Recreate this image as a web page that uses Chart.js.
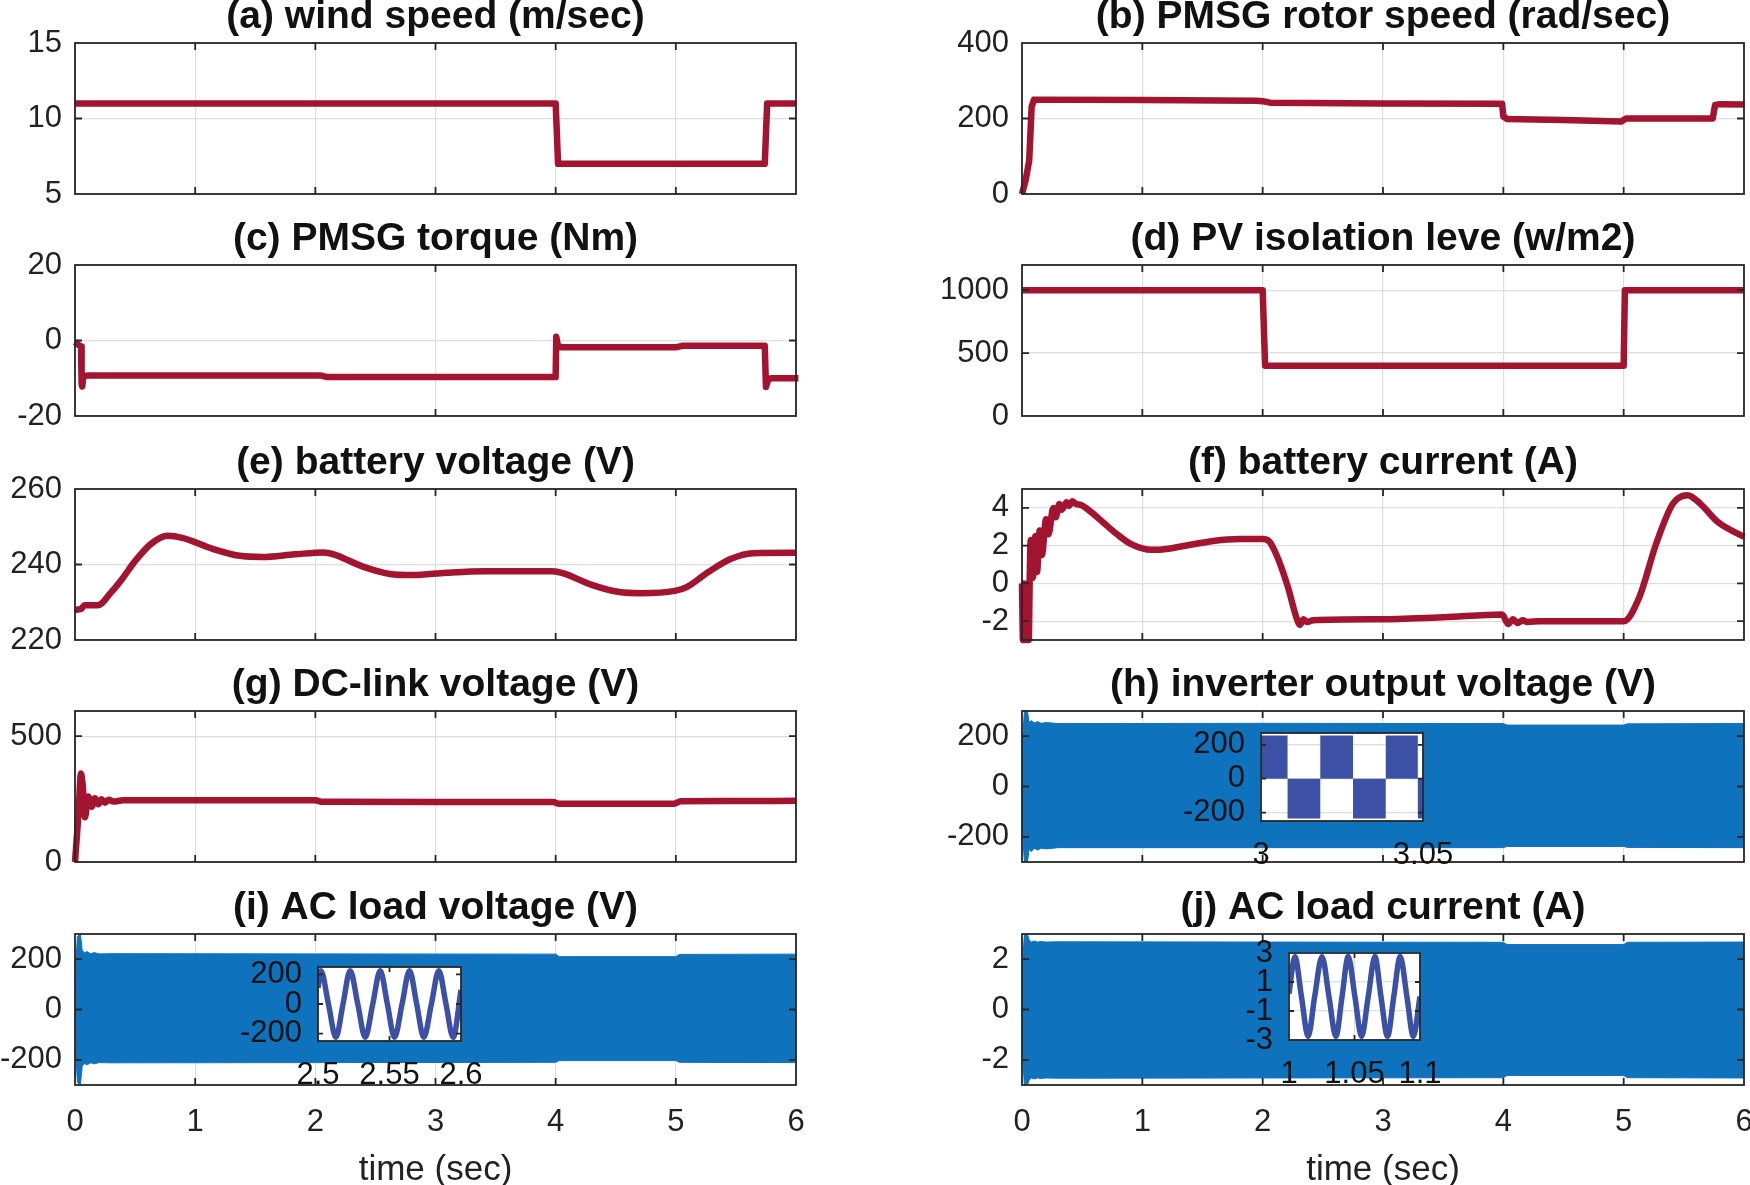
<!DOCTYPE html>
<html lang="en">
<head>
<meta charset="UTF-8" />
<title>Hybrid wind / PV system - simulation results</title>
<script src="https://cdn.jsdelivr.net/npm/chart.js"></script>
<style>
  html, body { margin: 0; padding: 0; background: #fff; overflow: hidden; }
  #fig { position: relative; width: 1750px; height: 1185px; overflow: hidden; background: #fff; }
  #fig canvas { position: absolute; }
</style>
</head>
<body>
<div id="fig"></div>
<script>
// ---- values (time in sec) ----
const xTicksMain = [0, 1, 2, 3, 4, 5, 6];
const xTicksTorque = [0, 3, 6];

// (a) wind speed
const windT = [0, 4.0, 4.02, 5.74, 5.76, 6];
const windV = [11, 11, 7, 7, 11, 11];
const windTicks = [5, 10, 15];

// (b) PMSG rotor speed
const rotorT = [0, 0.03, 0.06, 0.08, 0.1, 1.0, 1.95, 2.0, 2.06, 3.0, 3.99, 4.0, 4.03, 4.5, 4.98, 5.02, 5.74, 5.76, 5.8, 6];
const rotorV = [0, 36, 89, 231, 250, 249, 247, 246, 242, 240, 239, 205, 199, 196, 192, 200, 200, 236, 238, 237];
const rotorTicks = [0, 200, 400];

// (c) PMSG torque
const torqT = [0, 0.03, 0.05, 0.055, 0.06, 0.07, 0.1, 1.0, 2.05, 2.1, 3.0, 4.0, 4.005, 4.02, 4.05, 5.0, 5.05, 5.74, 5.75, 5.77, 5.8, 6.02];
const torqV = [-0.4, -1.2, -1.6, -11.5, -12.2, -9.4, -9.3, -9.3, -9.3, -9.7, -9.7, -9.7, 1.0, -1.6, -1.8, -1.8, -1.4, -1.4, -12.3, -10.2, -10, -10];
const torqTicks = [-20, 0, 20];

// (d) PV isolation level
const pvT = [0, 2.0, 2.02, 5.0, 5.01, 6];
const pvV = [1000, 1000, 400, 400, 1000, 1000];
const pvTicks = [0, 500, 1000];

// (e) battery voltage
const batVT = [0, 0.05, 0.08, 0.19, 0.3, 0.4, 0.49, 0.63, 0.77, 0.9, 1.14, 1.37, 1.56, 1.83, 2.07, 2.16, 2.39, 2.62, 2.81, 3.09, 3.41, 3.97, 4.06, 4.3, 4.53, 4.71, 4.99, 5.09, 5.27, 5.46, 5.64, 6];
const batVV = [228, 228.2, 229.2, 229.2, 232.6, 236.5, 240.5, 245.4, 247.6, 247, 244.2, 242.3, 242, 242.7, 243.2, 242.6, 239.5, 237.5, 237.2, 237.8, 238.2, 238.2, 237.7, 234.6, 232.7, 232.4, 233, 234, 238, 241.5, 243, 243.1];
const batVTicks = [220, 240, 260];

// (f) battery current
const batIT = [0, 0.008, 0.016, 0.024, 0.032, 0.04, 0.048, 0.056, 0.064, 0.072, 0.09, 0.11, 0.125, 0.146, 0.165, 0.2, 0.22, 0.26, 0.28, 0.31, 0.33, 0.37, 0.39, 0.42, 0.45, 0.49, 0.57, 0.68, 0.79, 0.9, 1.04, 1.12, 1.32, 1.59, 1.81, 2.0, 2.05, 2.11, 2.21, 2.28, 2.31, 2.34, 2.37, 2.42, 3.0, 3.5, 3.99, 4.04, 4.08, 4.12, 4.16, 4.2, 4.3, 5.0, 5.13, 5.27, 5.41, 5.53, 5.64, 5.78, 6.0];
const batIV = [0, -3, 0, -3, -0.2, -3, 0, -3, 0.2, 2.3, 0.3, 2.5, 0.6, 2.8, 1.5, 3.4, 2.6, 4.0, 3.5, 4.2, 3.9, 4.3, 4.1, 4.35, 4.2, 4.15, 3.8, 3.2, 2.6, 2.1, 1.8, 1.78, 1.95, 2.25, 2.35, 2.35, 2.25, 1.58, -0.2, -1.8, -2.2, -1.9, -2.05, -1.95, -1.9, -1.8, -1.65, -2.15, -1.9, -2.1, -1.95, -2.05, -2.0, -2.0, -0.73, 2.1, 4.23, 4.67, 4.2, 3.26, 2.46];
const batITicks = [-2, 0, 2, 4];

// (g) DC-link voltage
const dcT = [0, 0.03, 0.05, 0.065, 0.083, 0.11, 0.139, 0.166, 0.194, 0.22, 0.25, 0.28, 0.32, 0.4, 0.5, 2.0, 2.06, 3.0, 3.98, 4.03, 4.5, 4.98, 5.04, 5.5, 6];
const dcV = [0, 200, 352, 300, 178, 260, 220, 253, 229, 249, 235, 247, 240, 245, 245, 245, 239, 238, 238, 231, 231, 231, 241, 242, 243];
const dcTicks = [0, 500];

// (h) inverter output voltage: envelope of the 50 Hz band
const invT  = [0, 0.02, 0.045, 0.06, 0.08, 0.1, 0.13, 0.16, 0.2, 0.3, 2.0, 4.0, 4.03, 5.0, 5.03, 6];
const invUp = [150, 300, 300, 255, 262, 252, 258, 251, 254, 250, 251, 250, 244, 244, 249, 250];
const invLo = [-150, -300, -300, -250, -258, -245, -252, -245, -248, -243, -243, -243, -238, -238, -242, -243];
const invTicks = [-200, 0, 200];
// inset: 3 .. 3.05 s
const invZoomT = [3.0, 3.0082, 3.0183, 3.0284, 3.0385, 3.0484, 3.05];
const invZoomV = [255, -235, 255, -235, 255, -235, -235];
const invZoomXTicks = [3, 3.05];

// (i) AC load voltage: envelope
const acvT  = [0, 0.02, 0.045, 0.06, 0.08, 0.1, 0.13, 0.16, 0.2, 0.3, 2.0, 4.0, 4.03, 5.0, 5.03, 6];
const acvUp = [120, 290, 300, 235, 225, 230, 222, 226, 221, 222, 221, 220, 210, 210, 219, 220];
const acvLo = [-120, -290, -300, -225, -215, -220, -212, -216, -211, -212, -211, -210, -203, -203, -210, -211];
const acvTicks = [-200, 0, 200];
// inset: 2.5 .. 2.6 s
const acvZoomT = [2.5, 2.502, 2.5073, 2.5125, 2.5175, 2.5225, 2.5278, 2.533, 2.5383, 2.5435, 2.5485, 2.5535, 2.5588, 2.564, 2.569, 2.574, 2.5793, 2.5845, 2.5895, 2.5945, 2.6];
const acvZoomV = [110, 225, 0, -225, 0, 225, 0, -225, 0, 225, 0, -225, 0, 225, 0, -225, 0, 225, 0, -225, 95];
const acvZoomXTicks = [2.5, 2.55, 2.6];

// (j) AC load current: envelope
const aciT  = [0, 0.02, 0.045, 0.06, 0.08, 0.1, 0.13, 0.16, 0.2, 0.3, 2.0, 4.0, 4.03, 5.0, 5.03, 6];
const aciUp = [1.5, 3, 3, 2.75, 2.68, 2.72, 2.68, 2.7, 2.68, 2.69, 2.68, 2.67, 2.58, 2.58, 2.67, 2.68];
const aciLo = [-1.5, -3, -3, -2.8, -2.72, -2.76, -2.72, -2.74, -2.72, -2.73, -2.72, -2.71, -2.62, -2.62, -2.71, -2.72];
const aciTicks = [-2, 0, 2];
// inset: 1 .. 1.1 s
const aciZoomT = [1.0, 1.0045, 1.0095, 1.0146, 1.0196, 1.0252, 1.0305, 1.0358, 1.0405, 1.0452, 1.0503, 1.0554, 1.0605, 1.0656, 1.0702, 1.0752, 1.08, 1.0849, 1.09, 1.0949, 1.1];
const aciZoomV = [0.2, 2.75, 0, -2.75, 0, 2.75, 0, -2.75, 0, 2.75, 0, -2.75, 0, 2.75, 0, -2.75, 0, 2.75, 0, -2.75, 0];
const aciZoomXTicks = [1, 1.05, 1.1];
const aciZoomYTicks = [-3, -1, 1, 3];

// ---- styling ----
const RED = '#A2142F';
const BLUE = '#0F72BD';
const INSET_BLUE = '#3C51A6';
const GRID = '#dedede';
const AXIS = '#262626';
const FONT = "'Liberation Sans', Arial, Helvetica, sans-serif";
const TICK_SIZE = 31;
Chart.defaults.font.family = FONT;
Chart.defaults.color = '#1a1a1a';

const FIG_H = 1185;
const ROWS = [43, 265, 489, 711, 934];   // top of each plot box
const PH = 151;                           // plot box height
const Y_W = 100;                          // y axis band width (room for "1000")
const COLS = [
  {left: -30, width: 905, plotL: 75, plotR: 796},
  {left: 845, width: 945, plotL: 1022, plotR: 1744}
];

const fig = document.getElementById('fig');
function addCanvas(left, top, w, h) {
  const c = document.createElement('canvas');
  c.width = w; c.height = h;
  c.style.left = left + 'px'; c.style.top = top + 'px';
  c.style.width = w + 'px'; c.style.height = h + 'px';
  fig.appendChild(c);
  return c;
}

const pts = (t, v) => t.map((x, i) => ({x, y: v[i]}));
const setTicks = arr => s => { s.ticks = arr.map(v => ({value: v})); };

// MATLAB-like axes box with inward tick marks
const boxPlugin = {
  id: 'matlabBox',
  afterDraw(chart, args, opts) {
    const {ctx, chartArea: a, scales: {x, y}} = chart;
    const L = opts.tick || 7;
    ctx.save();
    ctx.strokeStyle = AXIS;
    ctx.lineWidth = 1.8;
    ctx.beginPath();
    x.ticks.forEach(tk => {
      const p = x.getPixelForValue(tk.value);
      if (p <= a.left + 1 || p >= a.right - 1) return;
      ctx.moveTo(p, a.bottom); ctx.lineTo(p, a.bottom - L);
      ctx.moveTo(p, a.top); ctx.lineTo(p, a.top + L);
    });
    y.ticks.forEach(tk => {
      const p = y.getPixelForValue(tk.value);
      if (p <= a.top + 1 || p >= a.bottom - 1) return;
      ctx.moveTo(a.left, p); ctx.lineTo(a.left + L, p);
      ctx.moveTo(a.right, p); ctx.lineTo(a.right - L, p);
    });
    ctx.stroke();
    ctx.strokeRect(a.left, a.top, a.right - a.left, a.bottom - a.top);
    ctx.restore();
  }
};
const whitePlugin = {
  id: 'whiteArea',
  beforeDraw(chart) {
    const {ctx, chartArea: a} = chart;
    ctx.save();
    ctx.fillStyle = '#fff';
    ctx.fillRect(a.left, a.top, a.right - a.left, a.bottom - a.top);
    ctx.restore();
  }
};

function redLine(t, v, smooth) {
  return [{
    data: pts(t, v), borderColor: RED, borderWidth: 6.5, pointRadius: 0,
    tension: 0, cubicInterpolationMode: smooth ? 'monotone' : 'default',
    clip: false, borderJoinStyle: 'round', fill: false
  }];
}
function band(t, up, lo) {
  return [
    {data: pts(t, up), borderColor: BLUE, borderWidth: 1, pointRadius: 0, fill: false},
    {data: pts(t, lo), borderColor: BLUE, borderWidth: 1, pointRadius: 0, fill: '-1', backgroundColor: BLUE}
  ];
}

function mainPanel(o) {
  const C = COLS[o.col];
  const pTop = ROWS[o.row];
  const last = o.row === ROWS.length - 1;
  const xH = last ? FIG_H - (pTop + PH) + 6 : 0;
  const bottomPad = last ? 0 : 34;
  const top = pTop - 60;
  const h = 60 + PH + xH + bottomPad;
  const canvas = addCanvas(C.left, top, C.width, h);
  return new Chart(canvas, {
    type: 'line',
    data: {datasets: o.datasets},
    options: {
      responsive: false, animation: false, devicePixelRatio: 1,
      layout: {padding: {left: C.plotL - C.left - Y_W, right: C.left + C.width - C.plotR, top: 11.2, bottom: bottomPad}},
      plugins: {
        legend: {display: false}, tooltip: {enabled: false},
        title: {display: true, text: o.title, fullSize: false, color: '#111',
                font: {size: 39, weight: 'bold'}, padding: {top: 0, bottom: 2}},
        matlabBox: {tick: 7}
      },
      scales: {
        x: {
          type: 'linear', min: 0, max: 6,
          afterBuildTicks: setTicks(o.xTicks || xTicksMain),
          afterFit: s => { s.height = xH; },
          grid: {color: GRID, lineWidth: 1.2, drawTicks: false},
          border: {display: false},
          ticks: {display: last, padding: 19, autoSkip: false, maxRotation: 0,
                  font: {size: TICK_SIZE}, color: '#222', callback: v => String(v)},
          title: {display: last, text: 'time (sec)', font: {size: 35}, color: '#222', padding: {top: 0, bottom: 0}}
        },
        y: {
          type: 'linear', min: o.yMin, max: o.yMax,
          afterBuildTicks: setTicks(o.yTicks),
          afterFit: s => { s.width = Y_W; },
          grid: {color: GRID, lineWidth: 1.2, drawTicks: false},
          border: {display: false},
          ticks: {padding: 13, autoSkip: false, font: {size: TICK_SIZE}, color: '#222', callback: v => String(v)}
        }
      }
    },
    plugins: [boxPlugin]
  });
}

function insetPanel(o) {
  const [L, T, R, B] = o.box;
  const yw = 90, padT = 55, padR = 70, xh = 70, padB = 10;
  const canvas = addCanvas(L - yw, T - padT, (R - L) + yw + padR, (B - T) + padT + xh + padB);
  return new Chart(canvas, {
    type: 'line',
    data: {datasets: o.datasets},
    options: {
      responsive: false, animation: false, devicePixelRatio: 1,
      layout: {padding: {left: 0, right: padR, top: padT, bottom: padB}},
      plugins: {legend: {display: false}, tooltip: {enabled: false}, matlabBox: {tick: 5}},
      scales: {
        x: {
          type: 'linear', min: o.xMin, max: o.xMax,
          afterBuildTicks: setTicks(o.xTicks),
          afterFit: s => { s.height = xh; },
          grid: {display: o.grid, color: GRID, lineWidth: 1.2, drawTicks: false},
          border: {display: false},
          ticks: {padding: 16, autoSkip: false, maxRotation: 0, font: {size: TICK_SIZE}, color: '#111', callback: v => String(v)}
        },
        y: {
          type: 'linear', min: o.yMin, max: o.yMax,
          afterBuildTicks: setTicks(o.yTicks),
          afterFit: s => { s.width = yw; },
          grid: {display: o.grid, color: GRID, lineWidth: 1.2, drawTicks: false},
          border: {display: false},
          ticks: {padding: 16, autoSkip: false, font: {size: TICK_SIZE}, color: '#111', callback: v => String(v)}
        }
      }
    },
    plugins: [whitePlugin, boxPlugin]
  });
}

// ---- main panels ----
mainPanel({col: 0, row: 0, title: '(a) wind speed (m/sec)', datasets: redLine(windT, windV), yMin: 5, yMax: 15, yTicks: windTicks});
mainPanel({col: 1, row: 0, title: '(b) PMSG rotor speed (rad/sec)', datasets: redLine(rotorT, rotorV), yMin: 0, yMax: 400, yTicks: rotorTicks});
mainPanel({col: 0, row: 1, title: '(c) PMSG torque (Nm)', datasets: redLine(torqT, torqV), yMin: -20, yMax: 20, yTicks: torqTicks, xTicks: xTicksTorque});
mainPanel({col: 1, row: 1, title: '(d) PV isolation leve (w/m2)', datasets: redLine(pvT, pvV), yMin: 0, yMax: 1200, yTicks: pvTicks});
mainPanel({col: 0, row: 2, title: '(e) battery voltage (V)', datasets: redLine(batVT, batVV, true), yMin: 220, yMax: 260, yTicks: batVTicks});
mainPanel({col: 1, row: 2, title: '(f) battery current (A)', datasets: redLine(batIT, batIV, true), yMin: -3, yMax: 5, yTicks: batITicks});
mainPanel({col: 0, row: 3, title: '(g) DC-link voltage (V)', datasets: redLine(dcT, dcV, true), yMin: 0, yMax: 600, yTicks: dcTicks});
mainPanel({col: 1, row: 3, title: '(h) inverter output voltage (V)', datasets: band(invT, invUp, invLo), yMin: -300, yMax: 300, yTicks: invTicks});
mainPanel({col: 0, row: 4, title: '(i) AC load voltage (V)', datasets: band(acvT, acvUp, acvLo), yMin: -300, yMax: 300, yTicks: acvTicks});
mainPanel({col: 1, row: 4, title: '(j) AC load current (A)', datasets: band(aciT, aciUp, aciLo), yMin: -3, yMax: 3, yTicks: aciTicks});

// ---- zoomed insets ----
insetPanel({
  box: [1261, 733, 1423, 821], grid: true,
  xMin: 3, xMax: 3.05, xTicks: invZoomXTicks, yMin: -250, yMax: 270, yTicks: invTicks,
  datasets: [{data: pts(invZoomT, invZoomV), stepped: 'before', borderWidth: 0, borderColor: INSET_BLUE,
              backgroundColor: INSET_BLUE, fill: 'origin', pointRadius: 0}]
});
insetPanel({
  box: [318, 967, 461, 1041], grid: false,
  xMin: 2.5, xMax: 2.6, xTicks: acvZoomXTicks, yMin: -250, yMax: 250, yTicks: acvTicks,
  datasets: [{data: pts(acvZoomT, acvZoomV), borderColor: INSET_BLUE, borderWidth: 5.5, pointRadius: 0,
              cubicInterpolationMode: 'monotone', fill: false}]
});
insetPanel({
  box: [1289, 953, 1420, 1040], grid: true,
  xMin: 1, xMax: 1.1, xTicks: aciZoomXTicks, yMin: -3, yMax: 3, yTicks: aciZoomYTicks,
  datasets: [{data: pts(aciZoomT, aciZoomV), borderColor: INSET_BLUE, borderWidth: 5.5, pointRadius: 0,
              cubicInterpolationMode: 'monotone', fill: false}]
});
</script>
</body>
</html>
